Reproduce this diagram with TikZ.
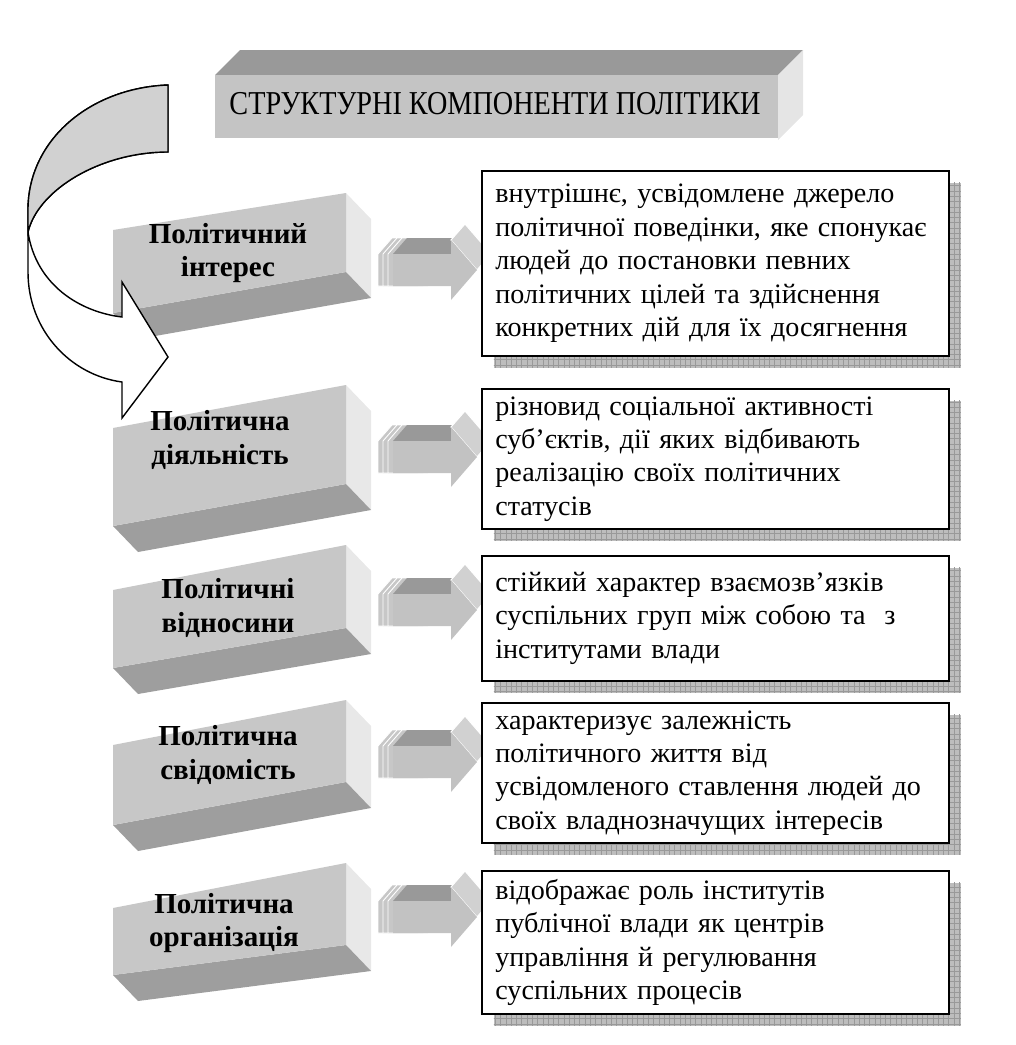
\documentclass[tikz,border=0pt]{standalone}
\usepackage{fontspec}
\setmainfont{Liberation Serif}
\usetikzlibrary{positioning, patterns, shadows, calc}

\tikzset{
    boxfront/.style={fill=black!22},
    boxside/.style={fill=black!9},
    boxbottom/.style={fill=black!38},
    boxlabel/.style={font=\fontsize{16.5}{19}\selectfont\bfseries, align=center, inner sep=0pt},
    gridshadow/.style={
        general shadow={fill=black!26, shadow xshift=0.24cm, shadow yshift=-0.24cm},
        general shadow={pattern=grid, pattern color=black!40, shadow xshift=0.24cm, shadow yshift=-0.24cm}},
    desc/.style={draw, line width=1pt, fill=white, anchor=north west, gridshadow,
        text width=8.8cm, inner xsep=0.27cm, minimum height=#1, align=left,
        font=\fontsize{16}{19}\selectfont},
    curvearrow/.style={draw, line width=0.8pt, line join=miter}
}

\begin{document}
\begin{tikzpicture}[x=0.02cm, y=-0.02cm]
\useasboundingbox (0,0) rectangle (1015,1045);

% title block
\fill[black!40] (215,75) -- (240,50) -- (803,50) -- (778,75) -- cycle;
\fill[black!10] (778,75) -- (803,50) -- (803,115) -- (778,140) -- cycle;
\fill[black!23] (215,75) rectangle (778,138);
\node[font=\fontsize{19}{19}\selectfont] (t) at (495,104) {\scalebox{0.845}[1]{СТРУКТУРНІ КОМПОНЕНТИ ПОЛІТИКИ}};

% 3d blocks on the left
\foreach \tl/\tr/\br/\bl in {230/193/272/313, 428/385/484/526, 590/545/628/668, 745/700/782/825, 908/863/945/975} {
    \fill[boxside] (346,\tr) -- (371,{\tr+26}) -- (371,{\br+26}) -- (346,\br) -- cycle;
    \fill[boxbottom] (113,\bl) -- (346,\br) -- (371,{\br+26}) -- (138,{\bl+26}) -- cycle;
    \fill[boxfront] (113,\tl) -- (346,\tr) -- (346,\br) -- (113,\bl) -- cycle;
}

\node[boxlabel] (l1) at (228,253) {Політичний\\інтерес};
\node[boxlabel] (l2) at (220,440) {Політична\\діяльність};
\node[boxlabel] (l3) at (228,608) {Політичні\\відносини};
\node[boxlabel] (l4) at (228,755) {Політична\\свідомість};
\node[boxlabel] (l5) at (224,923) {Політична\\організація};

% small block arrows
\foreach \y in {270,457,610,762,917} {
    \begin{scope}[shift={(393,\y)}]
        \foreach \d in {-15,-10,-5} {
            \fill[black!22, draw=white, line width=0.5pt] (\d,-16) -- ({\d+14},-32) -- ({\d+40},-32) -- ({\d+40},16) -- (\d,16) -- cycle;
        }
        \fill[black!40] (0,-16) -- (58,-16) -- (72,-32) -- (14,-32) -- cycle;
        \fill[black!18, draw=white, line width=0.6pt] (58,-30) -- (72,-46) -- (98,-16) -- (84,0) -- cycle;
        \fill[black!24] (0,-16) -- (58,-16) -- (58,-30) -- (84,0) -- (58,30) -- (58,16) -- (0,16) -- cycle;
    \end{scope}
}

% curved arrow
\draw[curvearrow, fill=white] (168,85) .. controls (90,88) and (28,140) .. (28,210) -- (28,272)
    .. controls (28,330) and (70,375) .. (122,382) -- (122,418) -- (168,357) -- (122,282) -- (122,317)
    .. controls (80,312) and (36,285) .. (28,232) .. controls (38,190) and (100,152) .. (168,152) -- cycle;
\draw[curvearrow, fill=black!18] (168,85) .. controls (90,88) and (28,140) .. (28,210) -- (28,232)
    .. controls (38,190) and (100,152) .. (168,152) -- cycle;

% descriptions
\node[desc=3.7cm] (d1) at (481,170) {внутрішнє, усвідомлене джерело\\політичної поведінки, яке спонукає\\людей до постановки певних\\політичних цілей та здійснення\\конкретних дій для їх досягнення};
\node[desc=2.8cm] (d2) at (481,388) {різновид соціальної активності\\суб’єктів, дії яких відбивають\\реалізацію своїх політичних\\статусів};
\node[desc=2.5cm] (d3) at (481,555) {стійкий характер взаємозв’язків\\суспільних груп між собою та~ з\\інститутами влади};
\node[desc=2.8cm] (d4) at (481,702) {характеризує залежність\\політичного життя від\\усвідомленого ставлення людей до\\своїх владнозначущих інтересів};
\node[desc=2.86cm] (d5) at (481,870) {відображає роль інститутів\\публічної влади як центрів\\управління й регулювання\\суспільних процесів};

\end{tikzpicture}
\end{document}
